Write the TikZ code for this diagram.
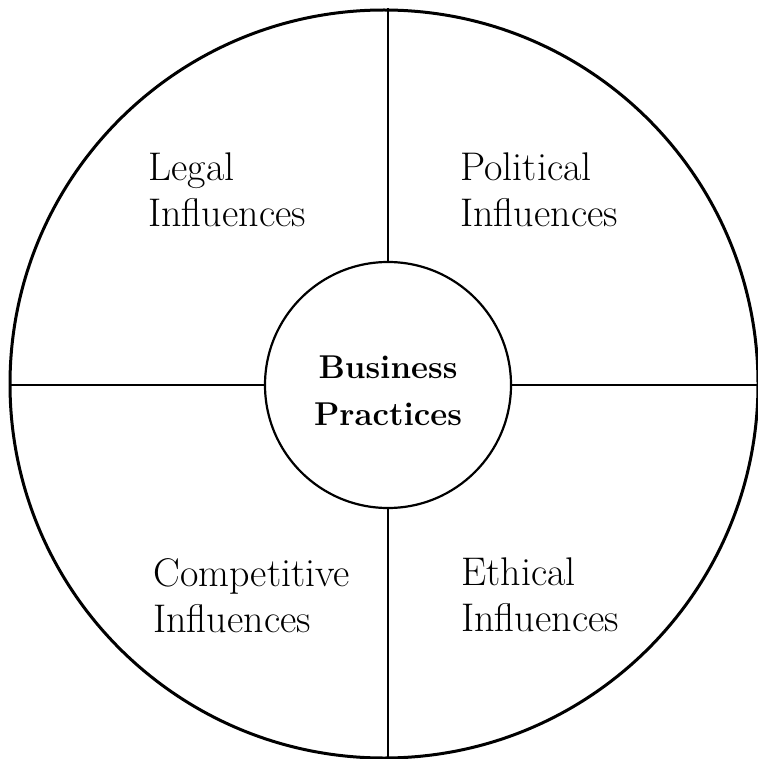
\documentclass[tikz,border=0pt]{standalone}
\begin{document}
\begin{tikzpicture}[x=0.5pt,y=-0.5pt,
    ring/.style={draw=black,circle,inner sep=0pt},
    influence/.style={anchor=base west,align=left,inner sep=0pt,font=\fontsize{20}{23}\selectfont}]
    \useasboundingbox (0,0) rectangle (758,759);
    \node [ring,line width=1.5pt,minimum size=374pt] (outer) at (384,384) {};
    \node [ring,line width=1.1pt,minimum size=123pt,align=center,text height=41pt,
      font=\bfseries\fontsize{16.5}{23.5}\selectfont] (core) at (388,385) {Business\\Practices};
    % spokes from the core to the rim
    \draw [line width=1.1pt] (core.north) -- (core.north |- outer.north);
    \draw [line width=1.1pt] (core.south) -- (core.south |- outer.south);
    \draw [line width=1.1pt] (core.west) -- (core.west -| outer.west);
    \draw [line width=1.1pt] (core.east) -- (core.east -| outer.east);
    \node [influence] (legal) at (148,227) {Legal\\Influences};
    \node [influence] (political) at (460,227) {Political\\Influences};
    \node [influence] (competitive) at (153,632) {Competitive\\Influences};
    \node [influence] (ethical) at (461,631) {Ethical\\Influences};
  \end{tikzpicture}
\end{document}
